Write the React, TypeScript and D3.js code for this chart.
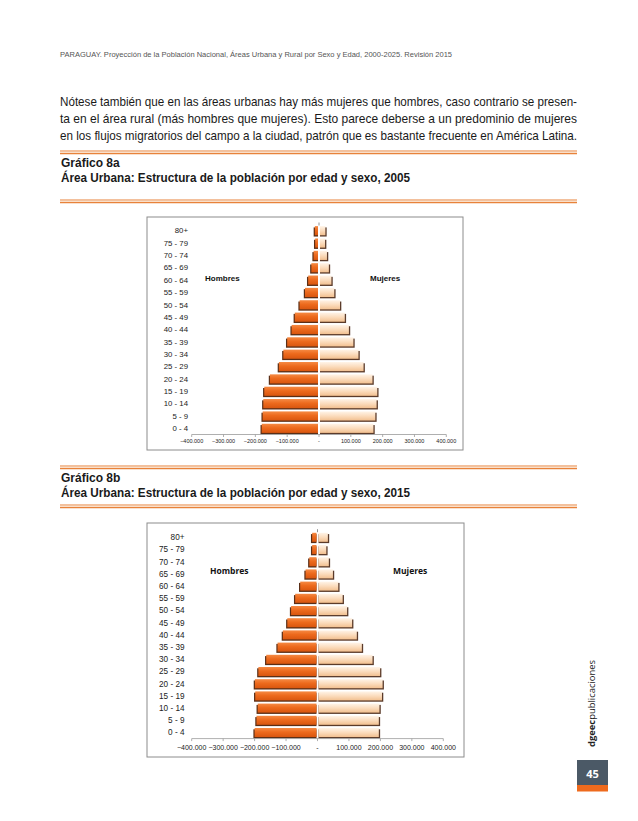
import React from 'react';
import * as d3 from 'd3';

const ages = ['0 - 4', '5 - 9', '10 - 14', '15 - 19', '20 - 24', '25 - 29', '30 - 34', '35 - 39', '40 - 44', '45 - 49', '50 - 54', '55 - 59', '60 - 64', '65 - 69', '70 - 74', '75 - 79', '80+'];

// 2005
const hombres2005 = [180000, 177000, 175000, 172000, 154000, 126000, 112000, 100000, 86000, 76000, 61000, 44000, 34000, 24000, 17000, 12000, 13000];
const mujeres2005 = [171000, 177000, 181000, 183000, 168000, 140000, 124000, 108000, 94000, 81000, 66000, 48000, 39000, 31000, 25000, 19000, 20000];

// 2015
const hombres2015 = [200000, 194000, 190000, 198000, 199000, 188000, 163000, 127000, 110000, 96000, 84000, 71000, 55000, 38000, 26000, 17000, 17000];
const mujeres2015 = [195000, 195000, 197000, 205000, 207000, 199000, 175000, 141000, 125000, 110000, 94000, 80000, 66000, 49000, 36000, 28000, 33000];

const ticks = [-400000, -300000, -200000, -100000, 0, 100000, 200000, 300000, 400000];

const parrafo = [
  'Nótese también que en las áreas urbanas hay más mujeres que hombres, caso contrario se presen-',
  'ta en el área rural (más hombres que mujeres). Esto parece deberse a un predominio de mujeres',
  'en los flujos migratorios del campo a la ciudad, patrón que es bastante frecuente en América Latina.',
];

const fmt = (v: number) => (v === 0 ? '-' : d3.format(',')(v).replace(/,/g, '.'));

interface PyramidProps {
  hombres: number[];
  mujeres: number[];
  box: [number, number, number, number];
  xRange: [number, number];
  yRange: [number, number];
  labelX: number;
  tickY: number;
  catFont: number;
  tickFont: number;
  labelFont: string;
  labelSize: number;
  hombresPos: [number, number];
  mujeresPos: [number, number];
}

function Pyramid(p: PyramidProps) {
  const x = d3.scaleLinear().domain([-400000, 400000]).range(p.xRange);
  const y = d3.scaleBand<string>().domain([...ages].reverse()).range(p.yRange).paddingInner(0.26).paddingOuter(0.13);
  const z = x(0);
  const bh = y.bandwidth();
  const axisY = p.yRange[1];
  return (
    <g>
      <rect x={p.box[0]} y={p.box[1]} width={p.box[2] - p.box[0]} height={p.box[3] - p.box[1]} fill="#fff" stroke="#8c8c8c" strokeWidth={1} />
      {ages.map((a, i) => {
        const yy = y(a) ?? 0;
        const xl = x(-p.hombres[i]);
        const xr = x(p.mujeres[i]);
        return (
          <g key={a}>
            <rect x={xl - 1.2} y={yy + 1.3} width={z - 1 - xl + 1.2} height={bh} fill="#5a2e16" />
            <rect x={xl} y={yy} width={z - 1 - xl} height={bh} fill="url(#gh)" />
            <rect x={z + 1} y={yy + 1.3} width={xr - z - 1 + 1.3} height={bh} fill="#5b3b2a" />
            <rect x={z + 1} y={yy} width={xr - z - 1} height={bh} fill="url(#gm)" />
          </g>
        );
      })}
      {ages.map((a) => (
        <text key={a} x={p.labelX} y={(y(a) ?? 0) + bh / 2} dy="0.35em" textAnchor="end" fontSize={p.catFont} fill="#222" fontFamily="Liberation Sans, Arial, sans-serif">{a}</text>
      ))}
      <line x1={p.xRange[0]} x2={p.xRange[1]} y1={axisY} y2={axisY} stroke="#9a9a9a" strokeWidth={0.8} />
      {ticks.map((t) => (
        <g key={t}>
          <line x1={x(t)} x2={x(t)} y1={axisY} y2={axisY + 2.5} stroke="#9a9a9a" strokeWidth={0.8} />
          <text x={x(t)} y={p.tickY} textAnchor="middle" fontSize={p.tickFont} fill="#222" fontFamily="Liberation Sans, Arial, sans-serif">{fmt(t)}</text>
        </g>
      ))}
      <line x1={z} x2={z} y1={p.yRange[0] - 2} y2={p.yRange[0] + 1} stroke="#777" strokeWidth={0.8} />
      <text x={p.hombresPos[0]} y={p.hombresPos[1]} fontSize={p.labelSize} fontWeight="bold" fontFamily={p.labelFont} fill="#111">Hombres</text>
      <text x={p.mujeresPos[0]} y={p.mujeresPos[1]} fontSize={p.labelSize} fontWeight="bold" fontFamily={p.labelFont} fill="#111">Mujeres</text>
    </g>
  );
}

function Rule({ y }: { y: number }) {
  return (
    <g>
      <line x1={60} x2={577} y1={y} y2={y} stroke="#e8823a" strokeWidth={1.1} />
      <line x1={60} x2={577} y1={y + 1.4} y2={y + 1.4} stroke="#f6d2b2" strokeWidth={0.8} />
      <line x1={60} x2={577} y1={y + 2.6} y2={y + 2.6} stroke="#e8823a" strokeWidth={1.1} />
    </g>
  );
}

export default function App() {
  const sans = 'Liberation Sans, Arial, sans-serif';
  return (
    <svg width={638} height={821} style={{ position: 'absolute', left: 0, top: 0, background: '#fff' }}>
      <defs>
        <linearGradient id="gh" x1="0" y1="0" x2="0" y2="1">
          <stop offset="0" stopColor="#f58a44" />
          <stop offset="0.45" stopColor="#ed6a1d" />
          <stop offset="1" stopColor="#d9560f" />
        </linearGradient>
        <linearGradient id="gm" x1="0" y1="0" x2="0" y2="1">
          <stop offset="0" stopColor="#fff4e8" />
          <stop offset="0.5" stopColor="#fbdcbd" />
          <stop offset="1" stopColor="#f2c090" />
        </linearGradient>
      </defs>
      <rect width={638} height={821} fill="#fff" />
      <text x={60} y={57} fontSize={8} fill="#555" fontFamily={sans} textLength={392} lengthAdjust="spacingAndGlyphs">
        PARAGUAY. Proyección de la Población Nacional, Áreas Urbana y Rural por Sexo y Edad, 2000-2025. Revisión 2015
      </text>
      {parrafo.map((l, i) => (
        <text key={i} x={60} y={106 + i * 17} fontSize={13} fill="#1a1a1a" fontFamily={sans} textLength={517} lengthAdjust="spacingAndGlyphs">{l}</text>
      ))}
      <Rule y={151} />
      <text x={61} y={167} fontSize={12} fontWeight="bold" fill="#1a1a1a" fontFamily={sans}>Gráfico 8a</text>
      <text x={61} y={181.5} fontSize={12} fontWeight="bold" fill="#1a1a1a" fontFamily={sans} textLength={349} lengthAdjust="spacingAndGlyphs">Área Urbana: Estructura de la población por edad y sexo, 2005</text>
      <Rule y={200} />
      <Pyramid
        hombres={hombres2005}
        mujeres={mujeres2005}
        box={[147, 217, 463, 450]}
        xRange={[191.7, 446.3]}
        yRange={[224.5, 434.5]}
        labelX={188}
        tickY={443}
        catFont={7.8}
        tickFont={5.5}
        labelFont={sans}
        labelSize={8}
        hombresPos={[205, 280.5]}
        mujeresPos={[370, 280.5]}
      />
      <Rule y={466} />
      <text x={61} y={482} fontSize={12} fontWeight="bold" fill="#1a1a1a" fontFamily={sans}>Gráfico 8b</text>
      <text x={61} y={496.5} fontSize={12} fontWeight="bold" fill="#1a1a1a" fontFamily={sans} textLength={349} lengthAdjust="spacingAndGlyphs">Área Urbana: Estructura de la población por edad y sexo, 2015</text>
      <Rule y={505} />
      <Pyramid
        hombres={hombres2015}
        mujeres={mujeres2015}
        box={[147, 523, 464, 757]}
        xRange={[191.7, 443.3]}
        yRange={[531.2, 738.6]}
        labelX={184.5}
        tickY={750}
        catFont={8.2}
        tickFont={7}
        labelFont="Open Sans, Lato, sans-serif"
        labelSize={8.5}
        hombresPos={[210, 574]}
        mujeresPos={[393, 574]}
      />
      <text transform="translate(595,747) rotate(-90)" fontSize={9.5} fill="#222" fontFamily="Open Sans, sans-serif" textLength={87} lengthAdjust="spacingAndGlyphs">
        <tspan fontWeight="bold">dgeec</tspan>publicaciones
      </text>
      <rect x={577} y={760} width={31} height={25} fill="#4b5966" />
      <rect x={577} y={785} width={31} height={6.5} fill="#ee6a1d" />
      <text x={592.5} y={777.5} textAnchor="middle" fontSize={11} fontWeight="bold" fill="#fff" fontFamily="Open Sans, sans-serif">45</text>
    </svg>
  );
}
